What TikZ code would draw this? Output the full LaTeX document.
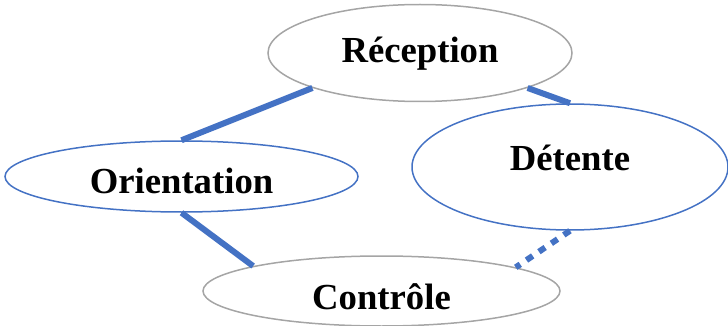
\documentclass[tikz,border=0pt]{standalone}
\usepackage{fontspec}
\setmainfont{Liberation Serif}
\usetikzlibrary{shapes.geometric}
\definecolor{linkblue}{HTML}{4472C4}
\definecolor{ringgray}{HTML}{A5A5A5}
\begin{document}
\begin{tikzpicture}[x=1pt, y=-1pt,
			phase/.style={ellipse, draw=linkblue, line width=1.5pt, inner sep=0pt,
				font=\fontsize{36.7}{40}\selectfont\bfseries},
			grayphase/.style={phase, draw=ringgray},
			link/.style={draw=linkblue, line width=6pt}]
			\useasboundingbox (0,0) rectangle (728,326);
			\node[grayphase, minimum width=304pt, minimum height=97pt, text height=26pt, text depth=6pt] (rec) at (420,53) {Réception};
			\node[phase, minimum width=353pt, minimum height=71pt, text height=37pt, text depth=3pt] (ori) at (181.5,176.5) {Orientation};
			\node[phase, minimum width=316pt, minimum height=126pt, text height=12pt, text depth=6pt] (det) at (570,167) {Détente};
			\node[grayphase, minimum width=357pt, minimum height=70pt, text height=40pt, text depth=4pt] (con) at (381.5,291) {Contrôle};
			\draw[link] (rec.198) -- (ori.90);
			\draw[link] (rec.342) -- (det.90);
			\draw[link] (ori.270) -- (con.169);
			\draw[link, dash pattern=on 7.5pt off 7.5pt] (det.270) -- (con.10);
			\end{tikzpicture}
\end{document}
